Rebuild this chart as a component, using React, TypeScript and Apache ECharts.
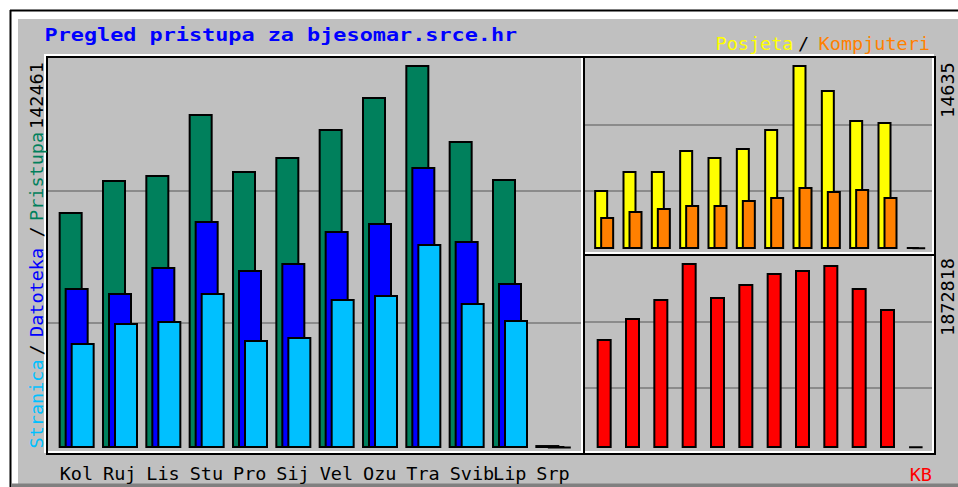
import React, { useEffect, useRef } from 'react';
import * as echarts from 'echarts';

const months = ['Kol', 'Ruj', 'Lis', 'Stu', 'Pro', 'Sij', 'Vel', 'Ozu', 'Tra', 'Svib', 'Lip', 'Srp'];
const pristupa = [87800, 99700, 101500, 124200, 103000, 108200, 118700, 130600, 142461, 114200, 100100, 1100];
const datoteka = [59500, 57700, 67300, 84400, 66200, 68800, 80700, 83700, 104500, 77000, 61400, 700];
const stranica = [39100, 46500, 47200, 57700, 40200, 41300, 55400, 56900, 75900, 53900, 47600, 400];
const posjeta = [4690, 6200, 6200, 7870, 7320, 8030, 9540, 14635, 12650, 10260, 10100, 150];
const kompjuteri = [2545, 3020, 3260, 3500, 3500, 3900, 4140, 4930, 4610, 4770, 4140, 100];
const kb = [1103400, 1316000, 1508300, 1872818, 1528600, 1660200, 1771500, 1801900, 1852500, 1619700, 1407100, 15000];

const titleText = 'Pregled pristupa za bjesomar.srce.hr';
const FONT = 'DejaVu Sans Mono';
const SMALL = 18.5;

const C = {
  hits: '#00805c',
  files: '#0000ff',
  pages: '#00c0ff',
  visits: '#ffff00',
  sites: '#ff8000',
  kb: '#ff0000',
  bg: '#c0c0c0',
  grid: '#7a7a7a',
};

const shadow = { textShadowColor: '#7f7f7f', textShadowOffsetX: 1.5, textShadowOffsetY: 1.5, textShadowBlur: 0 };

function frame(x1: number, y1: number, x2: number, y2: number) {
  return [
    { type: 'rect', z: 50, silent: true, shape: { x: x1 - 2, y: y1 - 2, width: x2 - x1, height: y2 - y1 }, style: { fill: 'none', stroke: '#ffffff', lineWidth: 2 } },
    { type: 'rect', z: 51, silent: true, shape: { x: x1, y: y1, width: x2 - x1, height: y2 - y1 }, style: { fill: 'none', stroke: '#000000', lineWidth: 2 } },
  ];
}

function vtext(text: string, x: number, y: number, fill: string, withShadow = true) {
  return {
    type: 'text', z: 60, silent: true, x, y, rotation: Math.PI / 2,
    style: { text, fill, fontFamily: FONT, fontSize: SMALL, align: 'left', verticalAlign: 'middle', ...(withShadow ? shadow : {}) },
  };
}

function htext(text: string, x: number, y: number, fill: string, align: string) {
  return {
    type: 'text', z: 60, silent: true, x, y,
    style: { text, fill, fontFamily: FONT, fontSize: SMALL, align, verticalAlign: 'middle', ...shadow },
  };
}

const gridLineAxis = (gridIndex: number) => ({
  type: 'value', gridIndex, min: 0, max: 3, interval: 1,
  axisLine: { show: false }, axisTick: { show: false }, axisLabel: { show: false },
  splitLine: { show: true, showMinLine: false, showMaxLine: false, lineStyle: { color: C.grid, width: 1.5 } },
});

const hiddenCat = (gridIndex: number) => ({ type: 'category', gridIndex, data: months, show: false });

export default function App() {
  const ref = useRef<HTMLDivElement>(null);
  useEffect(() => {
    const chart = echarts.init(ref.current!, null, { renderer: 'svg' });
    const maxHits = Math.max(...pristupa);
    const maxVisits = Math.max(...posjeta);
    const maxKb = Math.max(...kb);
    const barStyle = (color: string) => ({ color, borderColor: '#000', borderWidth: 2 });
    const option: any = {
      animation: false,
      grid: [
        { left: 55, width: 520, top: 65, height: 383 },
        { left: 590, width: 340, top: 65, height: 184 },
        { left: 590, width: 340, top: 263, height: 185 },
        { left: 47, width: 535, top: 59, height: 395 },
        { left: 584, width: 349, top: 59, height: 197 },
        { left: 584, width: 349, top: 256, height: 198 },
        { left: 38, width: 520, top: 59, height: 389 },
      ],
      xAxis: [
        hiddenCat(0), hiddenCat(1), hiddenCat(2),
        { type: 'value', gridIndex: 3, show: false },
        { type: 'value', gridIndex: 4, show: false },
        { type: 'value', gridIndex: 5, show: false },
        {
          type: 'category', gridIndex: 6, data: months,
          axisLine: { show: false }, axisTick: { show: false },
          axisLabel: { interval: 0, align: 'left', verticalAlign: 'middle', margin: 25, color: '#000', fontFamily: FONT, fontSize: SMALL },
        },
      ],
      yAxis: [
        { type: 'value', gridIndex: 0, min: 0, max: maxHits, show: false },
        { type: 'value', gridIndex: 1, min: 0, max: maxVisits, show: false },
        { type: 'value', gridIndex: 2, min: 0, max: maxKb, show: false },
        gridLineAxis(3), gridLineAxis(4), gridLineAxis(5),
        { type: 'value', gridIndex: 6, show: false },
      ],
      series: [
        { type: 'bar', name: 'Pristupa', xAxisIndex: 0, yAxisIndex: 0, data: pristupa, barWidth: 24, barGap: '-75%', itemStyle: barStyle(C.hits) },
        { type: 'bar', name: 'Datoteka', xAxisIndex: 0, yAxisIndex: 0, data: datoteka, barWidth: 24, barGap: '-75%', itemStyle: barStyle(C.files) },
        { type: 'bar', name: 'Stranica', xAxisIndex: 0, yAxisIndex: 0, data: stranica, barWidth: 24, barGap: '-75%', itemStyle: barStyle(C.pages) },
        { type: 'bar', name: 'Posjeta', xAxisIndex: 1, yAxisIndex: 1, data: posjeta, barWidth: 14, barGap: '-57.14%', itemStyle: barStyle(C.visits) },
        { type: 'bar', name: 'Kompjuteri', xAxisIndex: 1, yAxisIndex: 1, data: kompjuteri, barWidth: 14, barGap: '-57.14%', itemStyle: barStyle(C.sites) },
        { type: 'bar', name: 'KB', xAxisIndex: 2, yAxisIndex: 2, data: kb, barWidth: 15, itemStyle: barStyle(C.kb) },
      ],
      graphic: [
        { type: 'rect', z: -10, silent: true, shape: { x: 18, y: 19, width: 940, height: 465 }, style: { fill: C.bg } },
        { type: 'rect', z: -10, silent: true, shape: { x: 12, y: 483.5, width: 946, height: 3.5 }, style: { fill: '#808080' } },
        { type: 'line', z: -9, silent: true, shape: { x1: 10.5, y1: 10, x2: 10.5, y2: 487 }, style: { stroke: '#000', lineWidth: 2 } },
        { type: 'line', z: -9, silent: true, shape: { x1: 10, y1: 10.5, x2: 958, y2: 10.5 }, style: { stroke: '#000', lineWidth: 2 } },
        ...frame(47, 57, 584, 454),
        ...frame(584, 57, 935, 255),
        ...frame(584, 255, 935, 454),
        {
          type: 'text', z: 60, silent: true, x: 44.5, y: 35.7, scaleX: 1.284,
          style: { text: titleText, fill: '#0000ff', fontFamily: FONT, fontWeight: 'bold', fontSize: 17, align: 'left', verticalAlign: 'middle', ...shadow },
        },
        htext('Posjeta', 715.5, 43, C.visits, 'left'),
        htext('/', 798, 43, '#000', 'left'),
        htext('Kompjuteri', 930, 43, C.sites, 'right'),
        htext('KB', 932, 474, C.kb, 'right'),
        vtext('Stranica', 36, 448.5, C.pages),
        vtext('/', 36, 355.5, '#000'),
        vtext('Datoteka', 36, 337, C.files),
        vtext('/', 36, 237.5, '#000'),
        vtext('Pristupa', 36, 221, C.hits),
        vtext(String(maxHits), 36, 129, '#000', false),
        vtext(String(maxVisits), 947.5, 118, '#000', false),
        vtext(String(maxKb), 947.5, 336, '#000', false),
      ],
    };
    chart.setOption(option);
    return () => chart.dispose();
  }, []);
  return <div ref={ref} style={{ position: 'absolute', left: 0, top: 0, width: 958, height: 487, background: '#fff' }} />;
}
